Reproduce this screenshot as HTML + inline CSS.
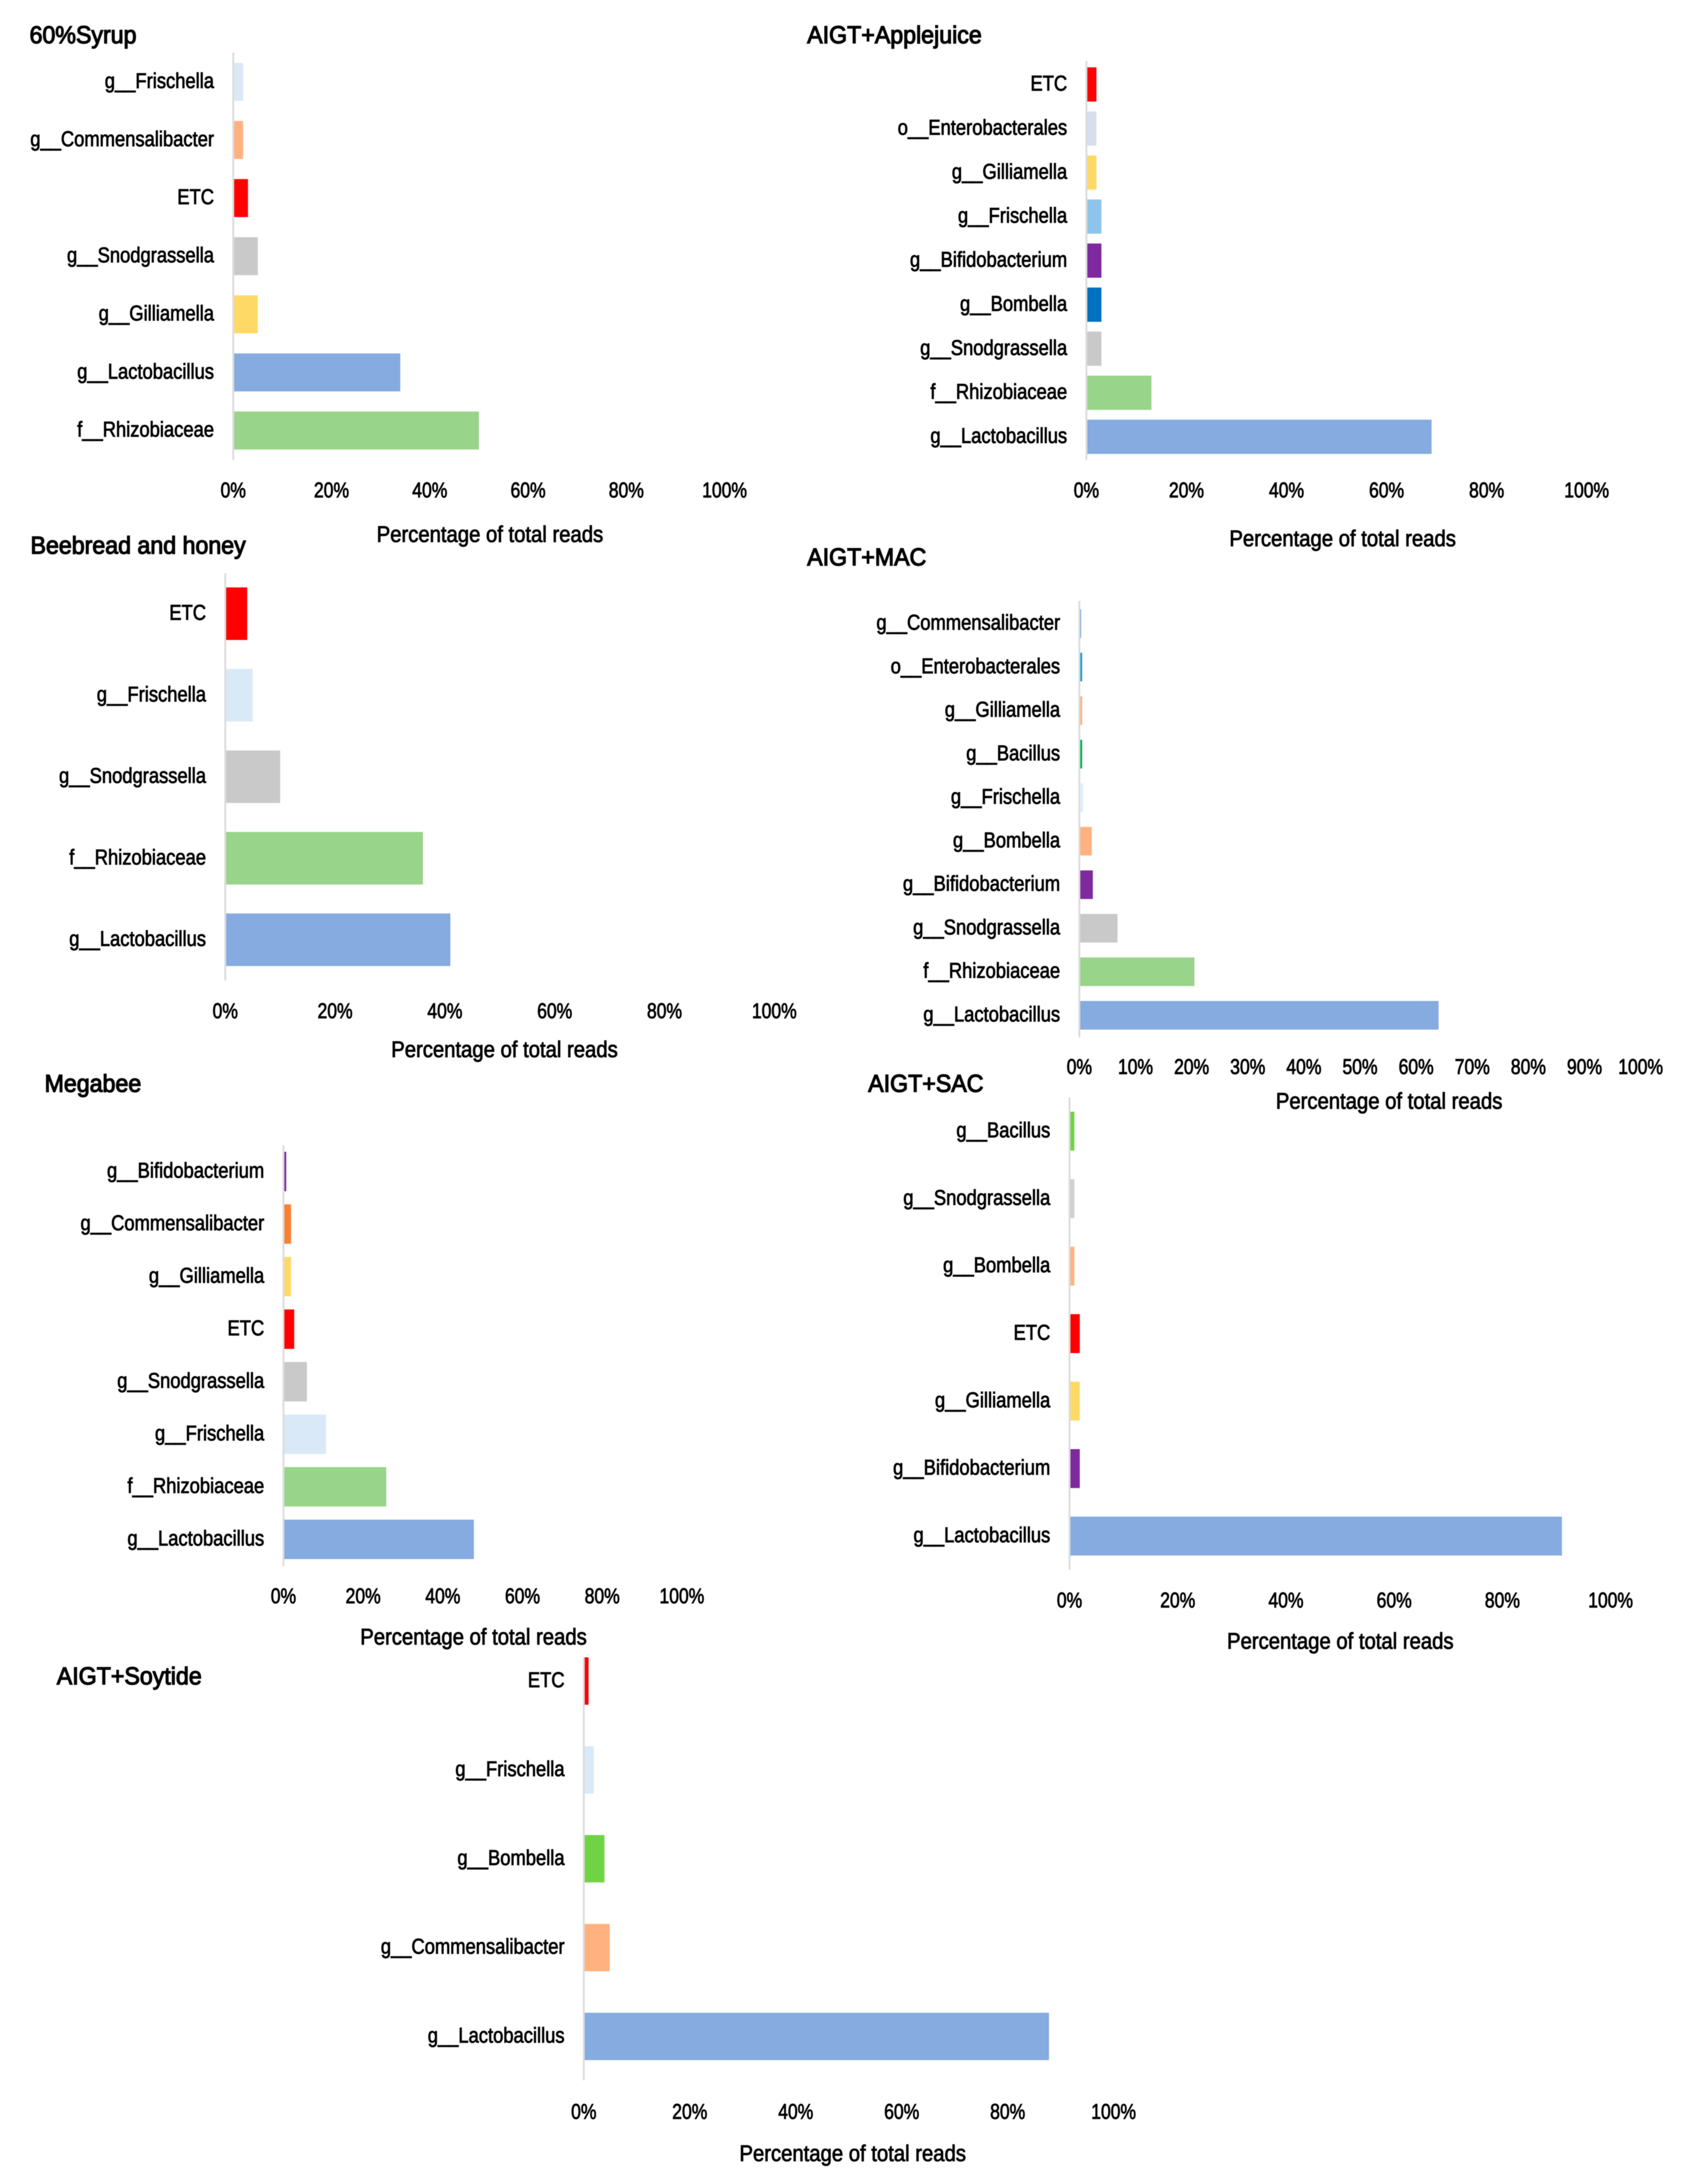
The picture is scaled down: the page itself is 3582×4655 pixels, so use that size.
<!DOCTYPE html>
<html lang="en">
<head>
<meta charset="utf-8">
<title>Percentage of total reads by diet</title>
<style>
html,body{margin:0;padding:0;background:#fff;width:3582px;height:4655px;overflow:hidden}
svg{display:block;filter:blur(0.8px)}
text{font-family:"Liberation Sans",sans-serif;fill:#000;stroke:#000}
</style>
</head>
<body>
<svg id="figure" xmlns="http://www.w3.org/2000/svg" width="3582" height="4655" viewBox="0 0 3582 4655"></svg>
<script>
// ---- shared colours ----
var RED = '#ff0000', PALE = '#d9e9f7', PEACH = '#ffb27f', GREY = '#c9c9c9', GOLD = '#ffd966',
    BLUE = '#85abe0', GREEN = '#98d48a', PURPLE = '#7e2a9e', LIME = '#70d345';

// ---- tick values ----
var ticksBy20 = [0, 20, 40, 60, 80, 100];
var ticksBy10 = [0, 10, 20, 30, 40, 50, 60, 70, 80, 90, 100];

// ---- 60%Syrup ----
var syrupCategories = ['g__Frischella', 'g__Commensalibacter', 'ETC', 'g__Snodgrassella', 'g__Gilliamella', 'g__Lactobacillus', 'f__Rhizobiaceae'];
var syrupValues = [2, 2, 3, 5, 5, 34, 50];
var syrupColors = [PALE, PEACH, RED, GREY, GOLD, BLUE, GREEN];

// ---- AIGT+Applejuice ----
var appleCategories = ['ETC', 'o__Enterobacterales', 'g__Gilliamella', 'g__Frischella', 'g__Bifidobacterium', 'g__Bombella', 'g__Snodgrassella', 'f__Rhizobiaceae', 'g__Lactobacillus'];
var appleValues = [2, 2, 2, 3, 3, 3, 3, 13, 69];
var appleColors = [RED, '#d6dfec', GOLD, '#8fc4ea', PURPLE, '#0070c0', GREY, GREEN, BLUE];

// ---- Beebread and honey ----
var beebreadCategories = ['ETC', 'g__Frischella', 'g__Snodgrassella', 'f__Rhizobiaceae', 'g__Lactobacillus'];
var beebreadValues = [4, 5, 10, 36, 41];
var beebreadColors = [RED, PALE, GREY, GREEN, BLUE];

// ---- AIGT+MAC ----
var macCategories = ['g__Commensalibacter', 'o__Enterobacterales', 'g__Gilliamella', 'g__Bacillus', 'g__Frischella', 'g__Bombella', 'g__Bifidobacterium', 'g__Snodgrassella', 'f__Rhizobiaceae', 'g__Lactobacillus'];
var macValues = [0.3, 0.5, 0.5, 0.5, 0.7, 2.2, 2.4, 6.8, 20.5, 64];
var macColors = ['#5b9bd5', '#1c9ad6', PEACH, '#00b050', '#e2effa', PEACH, PURPLE, GREY, GREEN, BLUE];

// ---- Megabee ----
var megabeeCategories = ['g__Bifidobacterium', 'g__Commensalibacter', 'g__Gilliamella', 'ETC', 'g__Snodgrassella', 'g__Frischella', 'f__Rhizobiaceae', 'g__Lactobacillus'];
var megabeeValues = [0.7, 1.9, 1.9, 2.7, 5.9, 10.7, 25.8, 47.8];
var megabeeColors = [PURPLE, '#f97f33', GOLD, RED, GREY, PALE, GREEN, BLUE];

// ---- AIGT+SAC ----
var sacCategories = ['g__Bacillus', 'g__Snodgrassella', 'g__Bombella', 'ETC', 'g__Gilliamella', 'g__Bifidobacterium', 'g__Lactobacillus'];
var sacValues = [0.9, 0.9, 0.9, 1.9, 1.9, 1.9, 91];
var sacColors = [LIME, '#d0d0d0', PEACH, RED, GOLD, PURPLE, BLUE];

// ---- AIGT+Soytide ----
var soyCategories = ['ETC', 'g__Frischella', 'g__Bombella', 'g__Commensalibacter', 'g__Lactobacillus'];
var soyValues = [0.9, 1.9, 3.9, 4.9, 87.8];
var soyColors = [RED, PALE, LIME, PEACH, BLUE];

var NS = 'http://www.w3.org/2000/svg';
var root = document.getElementById('figure');

function slug(s) {
  return s.toLowerCase().replace(/[^a-z0-9]+/g, '-').replace(/^-|-$/g, '');
}

function addText(parent, str, x, y, size, sx, anchor, stroke, name) {
  var t = document.createElementNS(NS, 'text');
  t.textContent = str;
  t.setAttribute('transform', 'translate(' + x + ',' + y + ') scale(' + sx + ',1)');
  t.setAttribute('font-size', size);
  t.setAttribute('text-anchor', anchor);
  t.setAttribute('stroke-width', stroke);
  
  
  parent.appendChild(t);
  return t;
}

function drawPanel(layout, title, categories, values, colors, ticks) {
  var g = document.createElementNS(NS, 'g');
  
  
  root.appendChild(g);

  function xScale(v) { return layout.x0 + (layout.x100 - layout.x0) * v / 100; }
  function yBand(i) {
    var n = categories.length;
    return n > 1 ? layout.firstY + (layout.lastY - layout.firstY) * i / (n - 1) : layout.firstY;
  }

  addText(g, title, layout.titleX, layout.titleY + 18, 52, 0.95, 'start', 2.2, 'panel-title');

  categories.forEach(function (cat, i) {
    var r = document.createElementNS(NS, 'rect');
    r.setAttribute('x', xScale(0));
    r.setAttribute('y', yBand(i) - layout.barH / 2);
    r.setAttribute('width', Math.max(0, xScale(values[i]) - xScale(0)));
    r.setAttribute('height', layout.barH);
    r.setAttribute('fill', colors[i]);
    
    
    g.appendChild(r);
    addText(g, cat, layout.x0 - 41, yBand(i) + 13, 45, 0.87, 'end', 1.4, 'category-label');
  });

  var axis = document.createElementNS(NS, 'line');
  axis.setAttribute('x1', xScale(0));
  axis.setAttribute('x2', xScale(0));
  axis.setAttribute('y1', layout.axisTop);
  axis.setAttribute('y2', layout.axisBottom);
  axis.setAttribute('stroke', '#dcdcdc');
  axis.setAttribute('stroke-width', 4);
  
  
  g.appendChild(axis);

  ticks.forEach(function (v) {
    addText(g, v + '%', xScale(v), layout.tickY + 13, 45, 0.83, 'middle', 1.4, 'x-tick-label');
  });

  addText(g, 'Percentage of total reads', layout.axisTitleX, layout.axisTitleY + 16, 48, 0.9, 'middle', 1.5, 'x-axis-title');
}

drawPanel({x0: 497, x100: 1544, firstY: 174.5, lastY: 917.6, barH: 81, axisTop: 112, axisBottom: 980, tickY: 1047, axisTitleX: 1044, axisTitleY: 1139, titleX: 63, titleY: 74},
  '60%Syrup', syrupCategories, syrupValues, syrupColors, ticksBy20);

drawPanel({x0: 2315, x100: 3381, firstY: 180, lastY: 931, barH: 73, axisTop: 130, axisBottom: 980, tickY: 1047, axisTitleX: 2861, axisTitleY: 1148, titleX: 1720, titleY: 74},
  'AIGT+Applejuice', appleCategories, appleValues, appleColors, ticksBy20);

drawPanel({x0: 480, x100: 1650, firstY: 1308, lastY: 2003, barH: 112, axisTop: 1222, axisBottom: 2090, tickY: 2157, axisTitleX: 1075, axisTitleY: 2237, titleX: 65, titleY: 1162},
  'Beebread and honey', beebreadCategories, beebreadValues, beebreadColors, ticksBy20);

drawPanel({x0: 2300, x100: 3496, firstY: 1329, lastY: 2164, barH: 61, axisTop: 1281, axisBottom: 2211, tickY: 2276, axisTitleX: 2960, axisTitleY: 2347, titleX: 1720, titleY: 1187},
  'AIGT+MAC', macCategories, macValues, macColors, ticksBy10);

drawPanel({x0: 604, x100: 1453, firstY: 2497, lastY: 3281, barH: 84, axisTop: 2441, axisBottom: 3338, tickY: 3404, axisTitleX: 1009, axisTitleY: 3489, titleX: 95, titleY: 2309},
  'Megabee', megabeeCategories, megabeeValues, megabeeColors, ticksBy20);

drawPanel({x0: 2279, x100: 3432, firstY: 2411, lastY: 3274, barH: 83, axisTop: 2339, axisBottom: 3346, tickY: 3413, axisTitleX: 2856, axisTitleY: 3498, titleX: 1850, titleY: 2309},
  'AIGT+SAC', sacCategories, sacValues, sacColors, ticksBy20);

drawPanel({x0: 1244, x100: 2373, firstY: 3583, lastY: 4340.5, barH: 101, axisTop: 3533, axisBottom: 4434, tickY: 4503, axisTitleX: 1817, axisTitleY: 4590, titleX: 121, titleY: 3572},
  'AIGT+Soytide', soyCategories, soyValues, soyColors, ticksBy20);
</script>
</body>
</html>
